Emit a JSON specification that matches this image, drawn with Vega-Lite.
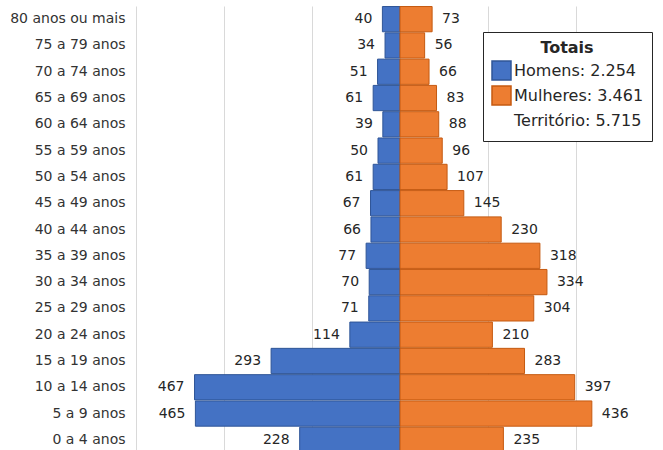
{
  "$schema": "https://vega.github.io/schema/vega-lite/v6.json",
  "width": 528,
  "height": 447,
  "autosize": {"type": "none"},
  "padding": {"left": 136, "top": 6, "right": 0, "bottom": 0},
  "background": "white",
  "config": {"view": {"stroke": null}},
  "data": {
    "values": [
      {"faixa": "80 anos ou mais", "sexo": "Homens", "pessoas": 40},
      {"faixa": "80 anos ou mais", "sexo": "Mulheres", "pessoas": 73},
      {"faixa": "75 a 79 anos", "sexo": "Homens", "pessoas": 34},
      {"faixa": "75 a 79 anos", "sexo": "Mulheres", "pessoas": 56},
      {"faixa": "70 a 74 anos", "sexo": "Homens", "pessoas": 51},
      {"faixa": "70 a 74 anos", "sexo": "Mulheres", "pessoas": 66},
      {"faixa": "65 a 69 anos", "sexo": "Homens", "pessoas": 61},
      {"faixa": "65 a 69 anos", "sexo": "Mulheres", "pessoas": 83},
      {"faixa": "60 a 64 anos", "sexo": "Homens", "pessoas": 39},
      {"faixa": "60 a 64 anos", "sexo": "Mulheres", "pessoas": 88},
      {"faixa": "55 a 59 anos", "sexo": "Homens", "pessoas": 50},
      {"faixa": "55 a 59 anos", "sexo": "Mulheres", "pessoas": 96},
      {"faixa": "50 a 54 anos", "sexo": "Homens", "pessoas": 61},
      {"faixa": "50 a 54 anos", "sexo": "Mulheres", "pessoas": 107},
      {"faixa": "45 a 49 anos", "sexo": "Homens", "pessoas": 67},
      {"faixa": "45 a 49 anos", "sexo": "Mulheres", "pessoas": 145},
      {"faixa": "40 a 44 anos", "sexo": "Homens", "pessoas": 66},
      {"faixa": "40 a 44 anos", "sexo": "Mulheres", "pessoas": 230},
      {"faixa": "35 a 39 anos", "sexo": "Homens", "pessoas": 77},
      {"faixa": "35 a 39 anos", "sexo": "Mulheres", "pessoas": 318},
      {"faixa": "30 a 34 anos", "sexo": "Homens", "pessoas": 70},
      {"faixa": "30 a 34 anos", "sexo": "Mulheres", "pessoas": 334},
      {"faixa": "25 a 29 anos", "sexo": "Homens", "pessoas": 71},
      {"faixa": "25 a 29 anos", "sexo": "Mulheres", "pessoas": 304},
      {"faixa": "20 a 24 anos", "sexo": "Homens", "pessoas": 114},
      {"faixa": "20 a 24 anos", "sexo": "Mulheres", "pessoas": 210},
      {"faixa": "15 a 19 anos", "sexo": "Homens", "pessoas": 293},
      {"faixa": "15 a 19 anos", "sexo": "Mulheres", "pessoas": 283},
      {"faixa": "10 a 14 anos", "sexo": "Homens", "pessoas": 467},
      {"faixa": "10 a 14 anos", "sexo": "Mulheres", "pessoas": 397},
      {"faixa": "5 a 9 anos", "sexo": "Homens", "pessoas": 465},
      {"faixa": "5 a 9 anos", "sexo": "Mulheres", "pessoas": 436},
      {"faixa": "0 a 4 anos", "sexo": "Homens", "pessoas": 228},
      {"faixa": "0 a 4 anos", "sexo": "Mulheres", "pessoas": 235}
    ]
  },
  "transform": [
    {"calculate": "datum.sexo == 'Homens' ? -datum.pessoas : datum.pessoas", "as": "lado"}
  ],
  "encoding": {
    "y": {
      "field": "faixa",
      "type": "nominal",
      "sort": ["80 anos ou mais", "75 a 79 anos", "70 a 74 anos", "65 a 69 anos", "60 a 64 anos", "55 a 59 anos", "50 a 54 anos", "45 a 49 anos", "40 a 44 anos", "35 a 39 anos", "30 a 34 anos", "25 a 29 anos", "20 a 24 anos", "15 a 19 anos", "10 a 14 anos", "5 a 9 anos", "0 a 4 anos"],
      "scale": {"paddingInner": 0.04, "paddingOuter": 0.02},
      "axis": {
        "title": null,
        "ticks": false,
        "domain": false,
        "grid": false,
        "labelPadding": 11,
        "labelFont": "DejaVu Sans",
        "labelFontSize": 14,
        "labelColor": "#333333"
      }
    }
  },
  "layer": [
    {
      "mark": {"type": "bar", "strokeWidth": 1},
      "encoding": {
        "x": {
          "field": "lado",
          "type": "quantitative",
          "scale": {"domain": [-600, 600], "nice": false},
          "axis": {
            "title": null,
            "values": [-600, -400, -200, 0, 200, 400, 600],
            "labels": false,
            "ticks": false,
            "domain": false,
            "grid": true,
            "gridColor": "#D9D9D9",
            "gridWidth": 1
          }
        },
        "color": {
          "field": "sexo",
          "type": "nominal",
          "scale": {"domain": ["Homens", "Mulheres", "Território"], "range": ["#4472C4", "#ED7D31", "rgba(0,0,0,0)"]},
          "legend": {
            "title": "Totais",
            "orient": "none",
            "legendX": 347,
            "legendY": 26,
            "symbolType": "square",
            "symbolSize": 361,
            "symbolStrokeWidth": 1.5,
            "labelFont": "DejaVu Sans",
            "labelFontSize": 16,
            "labelColor": "#262626",
            "labelOffset": 2,
            "titleFont": "DejaVu Sans",
            "titleFontSize": 16,
            "titleFontWeight": "bold",
            "titleColor": "#262626",
            "titleAnchor": "middle",
            "titlePadding": 4,
            "rowPadding": 0,
            "padding": 8,
            "strokeColor": "#262626",
            "fillColor": "white",
            "labelExpr": "datum.label == 'Homens' ? 'Homens: 2.254' : datum.label == 'Mulheres' ? 'Mulheres: 3.461\u00a0\u00a0\u00a0' : 'Território: 5.715'"
          }
        },
        "stroke": {
          "field": "sexo",
          "type": "nominal",
          "scale": {"domain": ["Homens", "Mulheres", "Território"], "range": ["#2F5597", "#C55A11", "rgba(0,0,0,0)"]},
          "legend": {
            "title": "Totais",
            "orient": "none",
            "legendX": 347,
            "legendY": 26,
            "symbolType": "square",
            "symbolSize": 361,
            "symbolStrokeWidth": 1.5,
            "labelFont": "DejaVu Sans",
            "labelFontSize": 16,
            "labelColor": "#262626",
            "labelOffset": 2,
            "titleFont": "DejaVu Sans",
            "titleFontSize": 16,
            "titleFontWeight": "bold",
            "titleColor": "#262626",
            "titleAnchor": "middle",
            "titlePadding": 4,
            "rowPadding": 0,
            "padding": 8,
            "strokeColor": "#262626",
            "fillColor": "white",
            "labelExpr": "datum.label == 'Homens' ? 'Homens: 2.254' : datum.label == 'Mulheres' ? 'Mulheres: 3.461\u00a0\u00a0\u00a0' : 'Território: 5.715'"
          }
        }
      }
    },
    {
      "transform": [{"filter": "datum.sexo == 'Homens'"}],
      "mark": {"type": "text", "align": "right", "baseline": "middle", "dx": -10, "font": "DejaVu Sans", "fontSize": 14, "color": "#262626"},
      "encoding": {
        "x": {"field": "lado", "type": "quantitative"},
        "text": {"field": "pessoas", "type": "quantitative"}
      }
    },
    {
      "transform": [{"filter": "datum.sexo == 'Mulheres'"}],
      "mark": {"type": "text", "align": "left", "baseline": "middle", "dx": 10, "font": "DejaVu Sans", "fontSize": 14, "color": "#262626"},
      "encoding": {
        "x": {"field": "lado", "type": "quantitative"},
        "text": {"field": "pessoas", "type": "quantitative"}
      }
    }
  ]
}
